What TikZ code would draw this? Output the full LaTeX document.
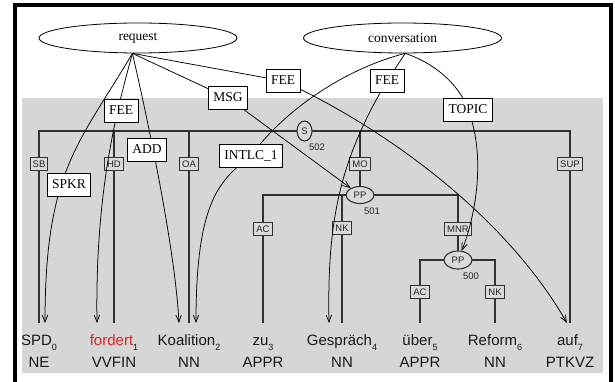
\documentclass[tikz,border=0pt]{standalone}
\usepackage{fontspec}
\setmainfont{Liberation Serif}
\newfontfamily\sansf{Liberation Sans}
\usetikzlibrary{shapes.geometric,arrows.meta}
\pgfdeclarelayer{bg}
\pgfdeclarelayer{edges}
\pgfdeclarelayer{conns}
\pgfdeclarelayer{top}
\pgfsetlayers{bg,edges,main,conns,top}
\definecolor{bggray}{RGB}{214,214,214}
\definecolor{taggray}{RGB}{218,218,218}
\definecolor{treecol}{RGB}{50,50,50}
\definecolor{wordcol}{RGB}{25,25,25}
\definecolor{fordcol}{RGB}{222,35,35}
\newcommand\lblfont{\rmfamily\fontsize{13.5}{14}\selectfont}
\newcommand\wordfont{\sansf\fontsize{15}{16}\selectfont}
\newcommand\tagfont{\sansf\fontsize{9.5}{10}\selectfont}
\newcommand\numfont{\sansf\fontsize{9.5}{10}\selectfont}
\newcommand\ix[1]{\raisebox{-5pt}{\fontsize{9}{9}\selectfont #1}}
\begin{document}
\begin{tikzpicture}[x=1pt,y=-1pt,
 fenode/.style={ellipse, draw, fill=white, line width=0.8pt, minimum width=198pt, minimum height=30pt, inner sep=0pt, font=\lblfont},
 lblbox/.style={rectangle, draw, fill=white, line width=0.8pt, font=\lblfont, inner xsep=5pt, inner ysep=0pt, text height=9.5pt, text depth=3pt, minimum height=23pt},
 tagbox/.style={rectangle, draw=treecol, fill=taggray, line width=1.1pt, font=\tagfont, text=black!85, inner xsep=2.5pt, inner ysep=0pt, minimum height=13pt, text height=7pt, text depth=0pt},
 catnode/.style={ellipse, draw=treecol, fill=taggray, line width=1.1pt, font=\tagfont, text=black!85, inner sep=0pt},
 wordnode/.style={anchor=base, inner sep=0pt, font=\wordfont, text=wordcol, text height=11pt, text depth=4pt, outer ysep=11pt},
 posnode/.style={anchor=base, inner sep=0pt, font=\wordfont, text=wordcol},
 numnode/.style={inner sep=0pt, font=\numfont, text=black!85},
 treeline/.style={draw=treecol, line width=1.3pt},
 connline/.style={draw=black, line width=0.75pt},
 arrowend/.style={-{Straight Barb[length=7pt,width=5.5pt]}},
]
\useasboundingbox (0,0) rectangle (615,382);
\begin{pgfonlayer}{bg}
\fill[white] (0,0) rectangle (615,382);
\fill[bggray] (22,98) rectangle (603,373);
\draw[line width=4pt] (15,382) -- (15,5) -- (610.5,5) -- (610.5,382);
\end{pgfonlayer}

% words
\node[wordnode] (w0) at (39,345) {SPD\ix{0}};
\node[wordnode] (w1) at (114,345) {\textcolor{fordcol}{fordert}\ix{1}};
\node[wordnode] (w2) at (189,345) {Koalition\ix{2}};
\node[wordnode] (w3) at (263,345) {zu\ix{3}};
\node[wordnode] (w4) at (342,345) {Gespräch\ix{4}};
\node[wordnode] (w5) at (420,345) {über\ix{5}};
\node[wordnode] (w6) at (495,345) {Reform\ix{6}};
\node[wordnode] (w7) at (570,345) {auf\ix{7}};
% POS tags
\node[posnode] (p0) at (39,367) {NE};
\node[posnode] (p1) at (114,367) {VVFIN};
\node[posnode] (p2) at (189,367) {NN};
\node[posnode] (p3) at (263,367) {APPR};
\node[posnode] (p4) at (342,367) {NN};
\node[posnode] (p5) at (420,367) {APPR};
\node[posnode] (p6) at (495,367) {NN};
\node[posnode] (p7) at (570,367) {PTKVZ};

% category nodes
\node[catnode, minimum width=15pt, minimum height=20pt] (S) at (304.5,131) {S};
\node[catnode, minimum width=28pt, minimum height=17pt] (PPa) at (360,195) {PP};
\node[catnode, minimum width=28pt, minimum height=18pt] (PPb) at (458,260) {PP};
\node[numnode] (n502) at (317,147) {502};
\node[numnode] (n501) at (372,211) {501};
\node[numnode] (n500) at (471,276) {500};

% tree lines
\begin{pgfonlayer}{edges}
\draw[treeline] (w0.north) -- (w0.north |- S.center) -- (w7.north |- S.center) -- (w7.north);
\draw[treeline] (w1.north) -- (w1.north |- S.center);
\draw[treeline] (w2.north) -- (w2.north |- S.center);
\draw[treeline] (PPa.center) -- (PPa.center |- S.center);
\draw[treeline] (w3.north) -- (w3.north |- PPa.center) -- (PPb.center |- PPa.center) -- (PPb.center);
\draw[treeline] (w4.north) -- (w4.north |- PPa.center);
\draw[treeline] (w5.north) -- (w5.north |- PPb.center) -- (w6.north |- PPb.center) -- (w6.north);
\end{pgfonlayer}

% edge labels in tree
\node[tagbox] (sb) at (39,164) {SB};
\node[tagbox] (hd) at (114,164) {HD};
\node[tagbox] (oa) at (189,164) {OA};
\node[tagbox] (mo) at (360,164) {MO};
\node[tagbox] (sup) at (570,164) {SUP};
\node[tagbox] (ac1) at (263,229) {AC};
\node[tagbox] (nk1) at (342,228) {NK};
\node[tagbox] (mnr) at (458,229) {MNR};
\node[tagbox] (ac2) at (420,292) {AC};
\node[tagbox] (nk2) at (495,292) {NK};

% frames and frame element labels
\begin{pgfonlayer}{top}
\node[fenode] (rq) at (138,38) {request};
\node[fenode] (cv) at (402.5,38) {conversation};
\node[lblbox] (feeA) at (121,111) {FEE};
\node[lblbox] (add) at (147,150) {ADD};
\node[lblbox] (spkr) at (69,185) {SPKR};
\node[lblbox] (msg) at (228,98) {MSG};
\node[lblbox] (feeB) at (283,81) {FEE};
\node[lblbox] (intlc) at (251,156) {INTLC\_1};
\node[lblbox] (feeC) at (387,81) {FEE};
\node[lblbox] (topic) at (468,110) {TOPIC};
\end{pgfonlayer}

\coordinate (t0) at ([xshift=6pt]w0.north);
\coordinate (t1) at ([xshift=-17pt]w1.north);
\coordinate (t2a) at ([xshift=-10pt]w2.north);
\coordinate (t2b) at ([xshift=7pt]w2.north);
\coordinate (t4) at ([xshift=-13pt]w4.north);
\coordinate (t7) at ([xshift=-3pt]w7.north);

\begin{pgfonlayer}{conns}
% request
\draw[connline,arrowend] (rq.-110) .. controls (79,144) and (45,170) .. (t0);
\draw[connline,arrowend] (rq.-110) .. controls (117,110) and (95,190) .. (t1);
\draw[connline,arrowend] (rq.-110) .. controls (150,130) and (175,250) .. (t2a);
\draw[connline,arrowend] (rq.-110) -- (msg.center) -- (PPa);
\draw[connline,arrowend] (rq.-110) -- (feeB.center) .. controls (385,128) and (505,215) .. (t7);
% conversation
\draw[connline,arrowend] (cv.-80) .. controls (340,70) and (280,115) .. (intlc.center) .. controls (220,180) and (196,200) .. (t2b);
\draw[connline,arrowend] (cv.-80) -- (feeC.center) .. controls (340,160) and (327,220) .. (t4);
\draw[connline,arrowend] (cv.-80) .. controls (440,65) and (462,90) .. (topic.center) .. controls (486,155) and (476,215) .. (PPb);
\end{pgfonlayer}
\end{tikzpicture}
\end{document}
